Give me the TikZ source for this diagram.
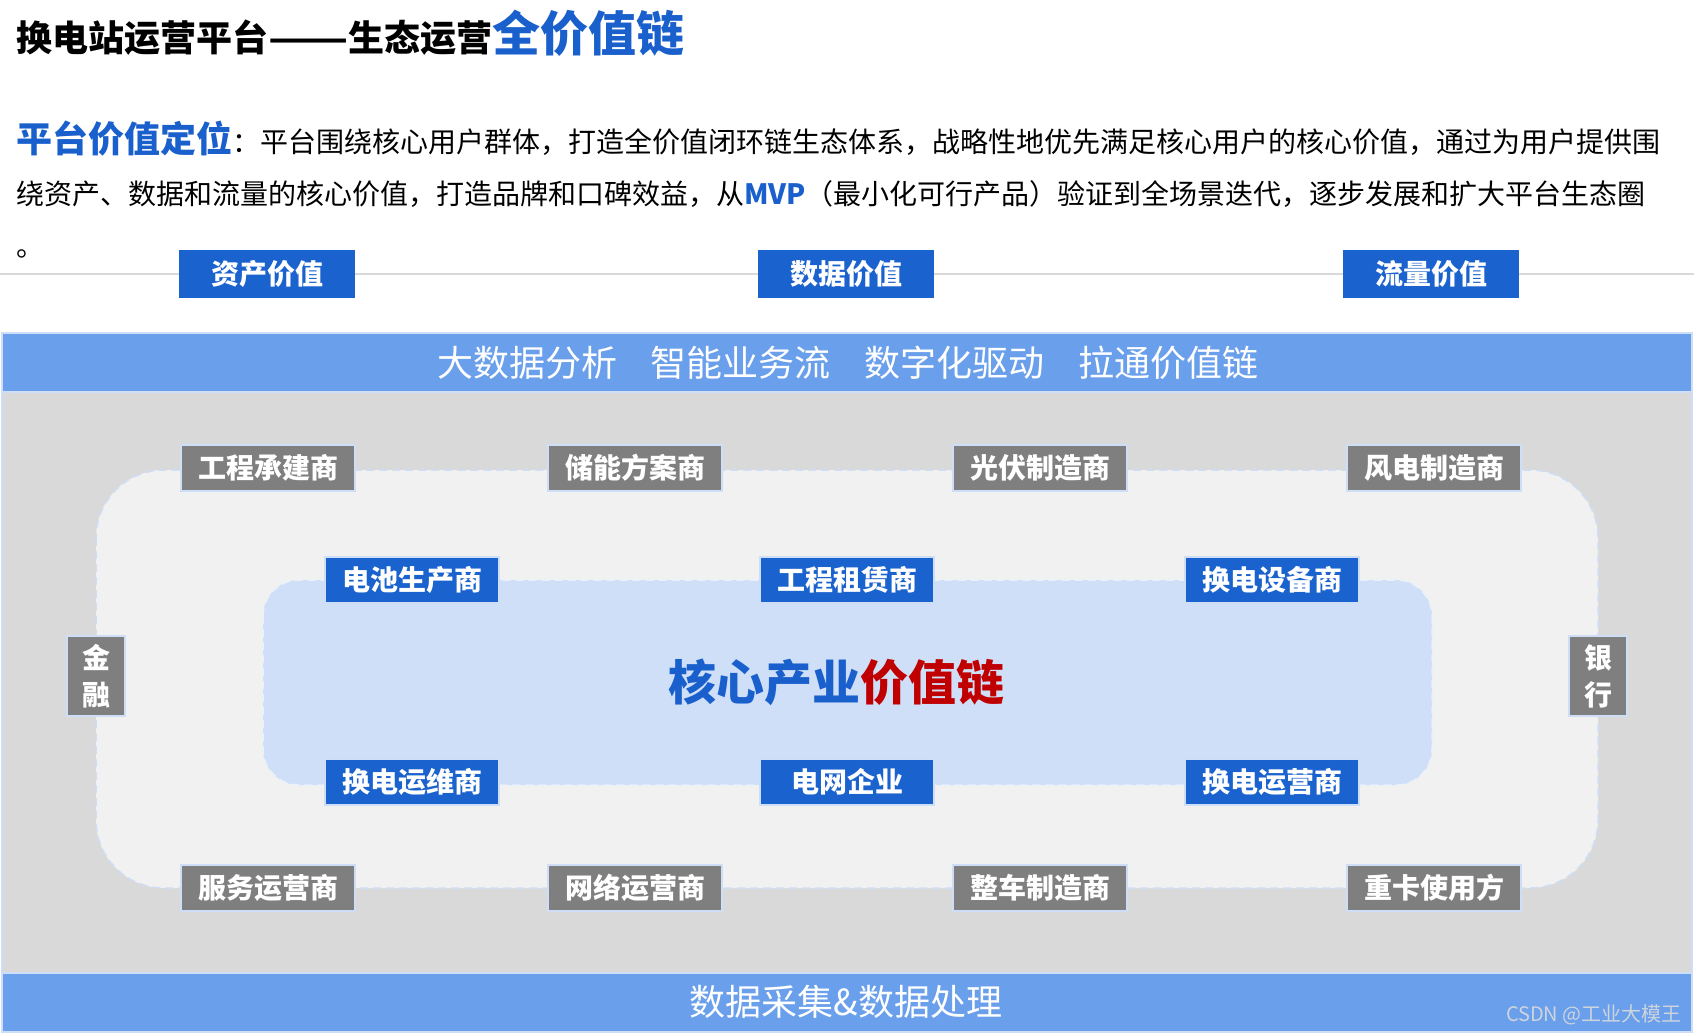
\documentclass[tikz,border=0pt]{standalone}
\usepackage{fontspec}
\usepackage{graphicx}
\setmainfont{Noto Sans CJK SC}
\newcommand{\myfs}[1]{\fontsize{#1pt}{#1pt}\selectfont}
\definecolor{tabblue}{RGB}{26,98,206}
\definecolor{banner}{RGB}{106,159,235}
\definecolor{outergray}{RGB}{217,217,217}
\definecolor{midgray}{RGB}{241,241,241}
\definecolor{innerblue}{RGB}{206,223,247}
\definecolor{boxgray}{RGB}{127,127,127}
\definecolor{edgeblue}{RGB}{206,222,246}
\definecolor{corered}{RGB}{192,0,0}
\definecolor{coreblue}{RGB}{26,96,204}
\definecolor{wmgray}{RGB}{205,212,222}
\begin{document}
\begin{tikzpicture}[x=1pt,y=-1pt,
  graybox/.style={fill=boxgray, draw=edgeblue, line width=2pt, minimum width=174pt, minimum height=46pt, inner sep=0pt, text=white, font=\myfs{28}\bfseries},
  bluebox/.style={graybox, fill=tabblue},
  tabbox/.style={fill=tabblue, minimum width=176pt, minimum height=48pt, inner sep=0pt, text=white, font=\myfs{28}\bfseries},
  sidebox/.style={graybox, minimum width=58pt, minimum height=80pt, align=center, font=\fontsize{28pt}{37pt}\selectfont\bfseries},
  plain/.style={inner sep=0pt, anchor=base west}
]
\fill[white] (0,0) rectangle (1694,1034);
\useasboundingbox (0,0) rectangle (1694,1034);

% title
\node[plain] (title) at (16,51) {\myfs{36}\bfseries 换电站运营平台\scalebox{1.3}[1]{——}生态运营{\myfs{48}\color{coreblue}全价值链}};

% paragraph
\node[plain] (l1) at (16,152) {{\myfs{36}\bfseries\color{coreblue}平台价值定位}\myfs{28}：平台围绕核心用户群体，打造全价值闭环链生态体系，战略性地优先满足核心用户的核心价值，通过为用户提供围};
\node[plain] (l2) at (16,204) {\myfs{28}绕资产、数据和流量的核心价值，打造品牌和口碑效益，从{\bfseries\color{coreblue}MVP}（最小化可行产品）验证到全场景迭代，逐步发展和扩大平台生态圈};
\node[plain] (l3) at (16,256) {\myfs{28}。};

% separator line and tabs
\coordinate (ls) at (0,274);
\coordinate (le) at (1694,274);
\draw[outergray, line width=2pt] (ls) -- (le);
\node[tabbox] (t1) at (267,274) {资产价值};
\node[tabbox] (t2) at (846,274) {数据价值};
\node[tabbox] (t3) at (1431,274) {流量价值};

% panel
\draw[fill=outergray, draw=edgeblue, line width=1.5pt] (2,333) rectangle (1692,1032);
\draw[fill=banner, draw=edgeblue, line width=1.5pt] (2,333) rectangle (1692,392);
\draw[fill=banner, draw=edgeblue, line width=1.5pt] (2,973) rectangle (1692,1032);
\node[inner sep=0pt, text=white, font=\myfs{36}] (topbanner) at (848,363) {大数据分析\hspace{34pt}智能业务流\hspace{34pt}数字化驱动\hspace{34pt}拉通价值链};
\node[inner sep=0pt, text=white, font=\myfs{36}] (botbanner) at (846,1002) {数据采集\&数据处理};
\node[inner sep=0pt, anchor=east, text=wmgray, font=\myfs{20}] (wm) at (1682,1015) {CSDN @工业大模王};

% rings
\draw[fill=midgray, draw=edgeblue, dash pattern=on 8pt off 5pt, line width=1.5pt, rounded corners=68pt] (96,470) rectangle (1598,888);
\draw[fill=innerblue, draw=white!55!innerblue, dash pattern=on 8pt off 5pt, line width=1.5pt, rounded corners=36pt] (263,580) rectangle (1432,785);

% outer ring boxes
\node[graybox] (g1) at (268,468) {工程承建商};
\node[graybox] (g2) at (635,468) {储能方案商};
\node[graybox] (g3) at (1040,468) {光伏制造商};
\node[graybox] (g4) at (1434,468) {风电制造商};
\node[graybox] (g5) at (268,888) {服务运营商};
\node[graybox] (g6) at (635,888) {网络运营商};
\node[graybox] (g7) at (1040,888) {整车制造商};
\node[graybox] (g8) at (1434,888) {重卡使用方};
\node[sidebox] (s1) at (96,676) {金\\融};
\node[sidebox] (s2) at (1598,676) {银\\行};

% inner ring boxes
\node[bluebox] (b1) at (412,580) {电池生产商};
\node[bluebox] (b2) at (847,580) {工程租赁商};
\node[bluebox] (b3) at (1272,580) {换电设备商};
\node[bluebox] (b4) at (412,782) {换电运维商};
\node[bluebox] (b5) at (847,782) {电网企业};
\node[bluebox] (b6) at (1272,782) {换电运营商};

% core
\node[inner sep=0pt, font=\myfs{48}\bfseries] (core) at (836,682) {{\color{coreblue}核心产业}{\color{corered}价值链}};
\end{tikzpicture}
\end{document}
